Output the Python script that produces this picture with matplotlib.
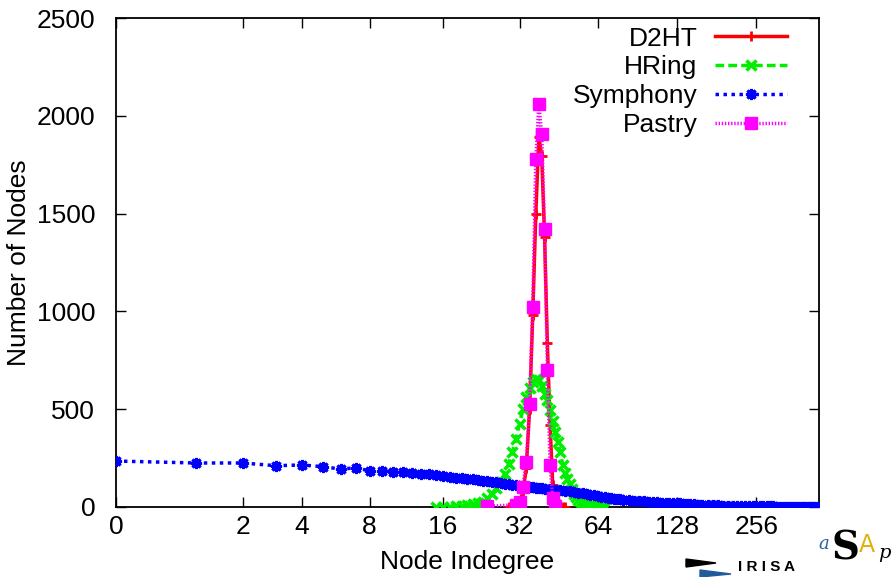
import numpy as np
import matplotlib
matplotlib.use("Agg")
import matplotlib.pyplot as plt
from matplotlib.patches import Polygon

plt.rcParams['font.family'] = ['Liberation Sans', 'DejaVu Sans']

# node indegree -> number of nodes
d2ht_deg = [29, 30, 31, 32, 33, 34, 35, 36, 37, 38, 39, 40, 41, 42, 43, 44, 45, 46, 47, 48]
d2ht_cnt = [1, 3, 8, 25, 75, 200, 500, 980, 1497, 1893, 1795, 1379, 837, 420, 110, 35, 12, 5, 2, 1]

hring_deg = list(range(15, 69))
hring_cnt = [1, 1, 2, 3, 5, 10, 15, 20, 28, 45,
             65, 95, 130, 170, 220, 280, 350, 425, 500, 560,
             610, 640, 655, 650, 620, 580, 545, 495, 440, 385,
             330, 280, 215, 175, 145, 118, 90, 68, 50, 37,
             27, 19, 14, 10, 7, 5, 4, 3, 2, 2,
             1, 1, 1, 1]

sym_deg = (list(range(0, 41)) + list(range(42, 81, 2)) + list(range(84, 161, 4))
           + list(range(168, 441, 8)) + [441])
sym_cnt = [235, 225, 225, 211, 215, 206, 194, 200, 185, 184,
           181, 179, 175, 170, 168, 162, 156, 153, 150, 148,
           144, 141, 139, 135, 133, 129, 126, 124, 120, 118,
           114, 110, 107, 106, 104, 104, 102, 99, 98, 95,
           94,
           91, 89, 85, 83, 80, 77, 74, 70, 66, 62,
           59, 55, 52, 49, 47, 45, 43, 41, 39, 37,
           35, 33, 31, 29, 27, 26, 25, 23, 22, 21,
           20, 19, 18, 17, 15, 14, 13, 12, 11, 10,
           9, 8, 8, 7, 7, 6, 6, 5, 5, 5,
           4, 4, 4, 3, 3, 3, 3, 2, 2, 2,
           2, 2, 2, 1, 1, 1, 1, 1, 1, 1,
           1, 1, 1, 1, 0, 0]

pastry_deg = [24, 31, 32, 33, 34, 35, 36, 37, 38, 39, 40, 41, 42, 43, 44]
pastry_cnt = [3, 12, 25, 104, 232, 527, 1024, 1778, 2060, 1905, 1420, 700, 215, 48, 3]

xticks = [0, 2, 4, 8, 16, 32, 64, 128, 256]
yticks = [0, 500, 1000, 1500, 2000, 2500]

W, H = 895, 577
fs = 19
fig = plt.figure(figsize=(W / 100, H / 100), dpi=100)
ax = fig.add_axes([116 / W, 1 - 507 / H, (819 - 116) / W, (507 - 18) / H])

ax.set_xscale('function', functions=(lambda x: np.log2(np.asarray(x) + 1.0),
                                      lambda y: 2.0 ** np.asarray(y) - 1.0))

ax.plot(d2ht_deg, d2ht_cnt, color='#ff0000', lw=2.5, ls='-',
        marker='+', ms=7, mew=2, label='D2HT', zorder=3)
ax.plot(hring_deg, hring_cnt, color='#00ee00', lw=2.5, ls=(0, (2.5, 1.2)),
        marker='x', ms=7, mew=2.5, label='HRing', zorder=4)
ax.plot(sym_deg, sym_cnt, color='#0000ff', lw=2.5, ls=(0, (1, 1.3)),
        marker=(8, 2, 0), ms=8, mew=2.2, label='Symphony', zorder=5)
ax.plot(pastry_deg, pastry_cnt, color='#ff00ff', lw=2.5, ls=(0, (0.4, 0.5)),
        marker='s', ms=9, mew=1, label='Pastry', zorder=6)

ax.set_xlim(0, 441)
ax.set_ylim(0, 2500)
ax.set_xticks(xticks)
ax.set_xticklabels([str(t) for t in xticks])
ax.set_yticks(yticks)
ax.minorticks_off()
ax.tick_params(direction='in', top=True, right=True, length=7, width=1,
               labelsize=fs)
ax.tick_params(axis='x', pad=6)
ax.tick_params(axis='y', pad=15)
for s in ax.spines.values():
    s.set_linewidth(1.3)

ax.set_xlabel('Node Indegree', fontsize=fs, labelpad=8)
ax.set_ylabel('Number of Nodes', fontsize=fs, labelpad=4)

leg = ax.legend(loc='upper right', bbox_to_anchor=(0.981, 1.02), frameon=False,
                markerfirst=False, alignment='right', fontsize=fs,
                handlelength=2.75, handletextpad=0.65, labelspacing=0.18,
                borderpad=0.2)

# IRISA / aSAp logo in the lower right corner (display pixels, origin bottom-left)
fig.patches.append(Polygon([[686, H - 559], [716, H - 563], [686, H - 567]], closed=True,
                           transform=None, color='black'))
fig.patches.append(Polygon([[700, H - 570], [731, H - 574], [700, H - 577]], closed=True,
                           transform=None, color='#1f5a9a'))
fig.text(738 / W, 1 - 567 / H, 'I R I S A', fontsize=11, fontweight='bold',
         va='center', ha='left')
fig.text(818 / W, 1 - 544 / H, 'a', fontsize=13, style='italic',
         color='#2a5f9e', family='DejaVu Serif', va='center')
fig.text(832 / W, 1 - 548 / H, 'S', fontsize=28, fontweight='bold',
         color='black', family='DejaVu Serif', va='center')
fig.text(859 / W, 1 - 545 / H, 'A', fontsize=17, color='#e0b010',
         family='DejaVu Sans', va='center')
fig.text(878 / W, 1 - 553 / H, 'p', fontsize=14, style='italic',
         color='black', family='DejaVu Serif', va='center')

fig.savefig('out.png', dpi=100)
